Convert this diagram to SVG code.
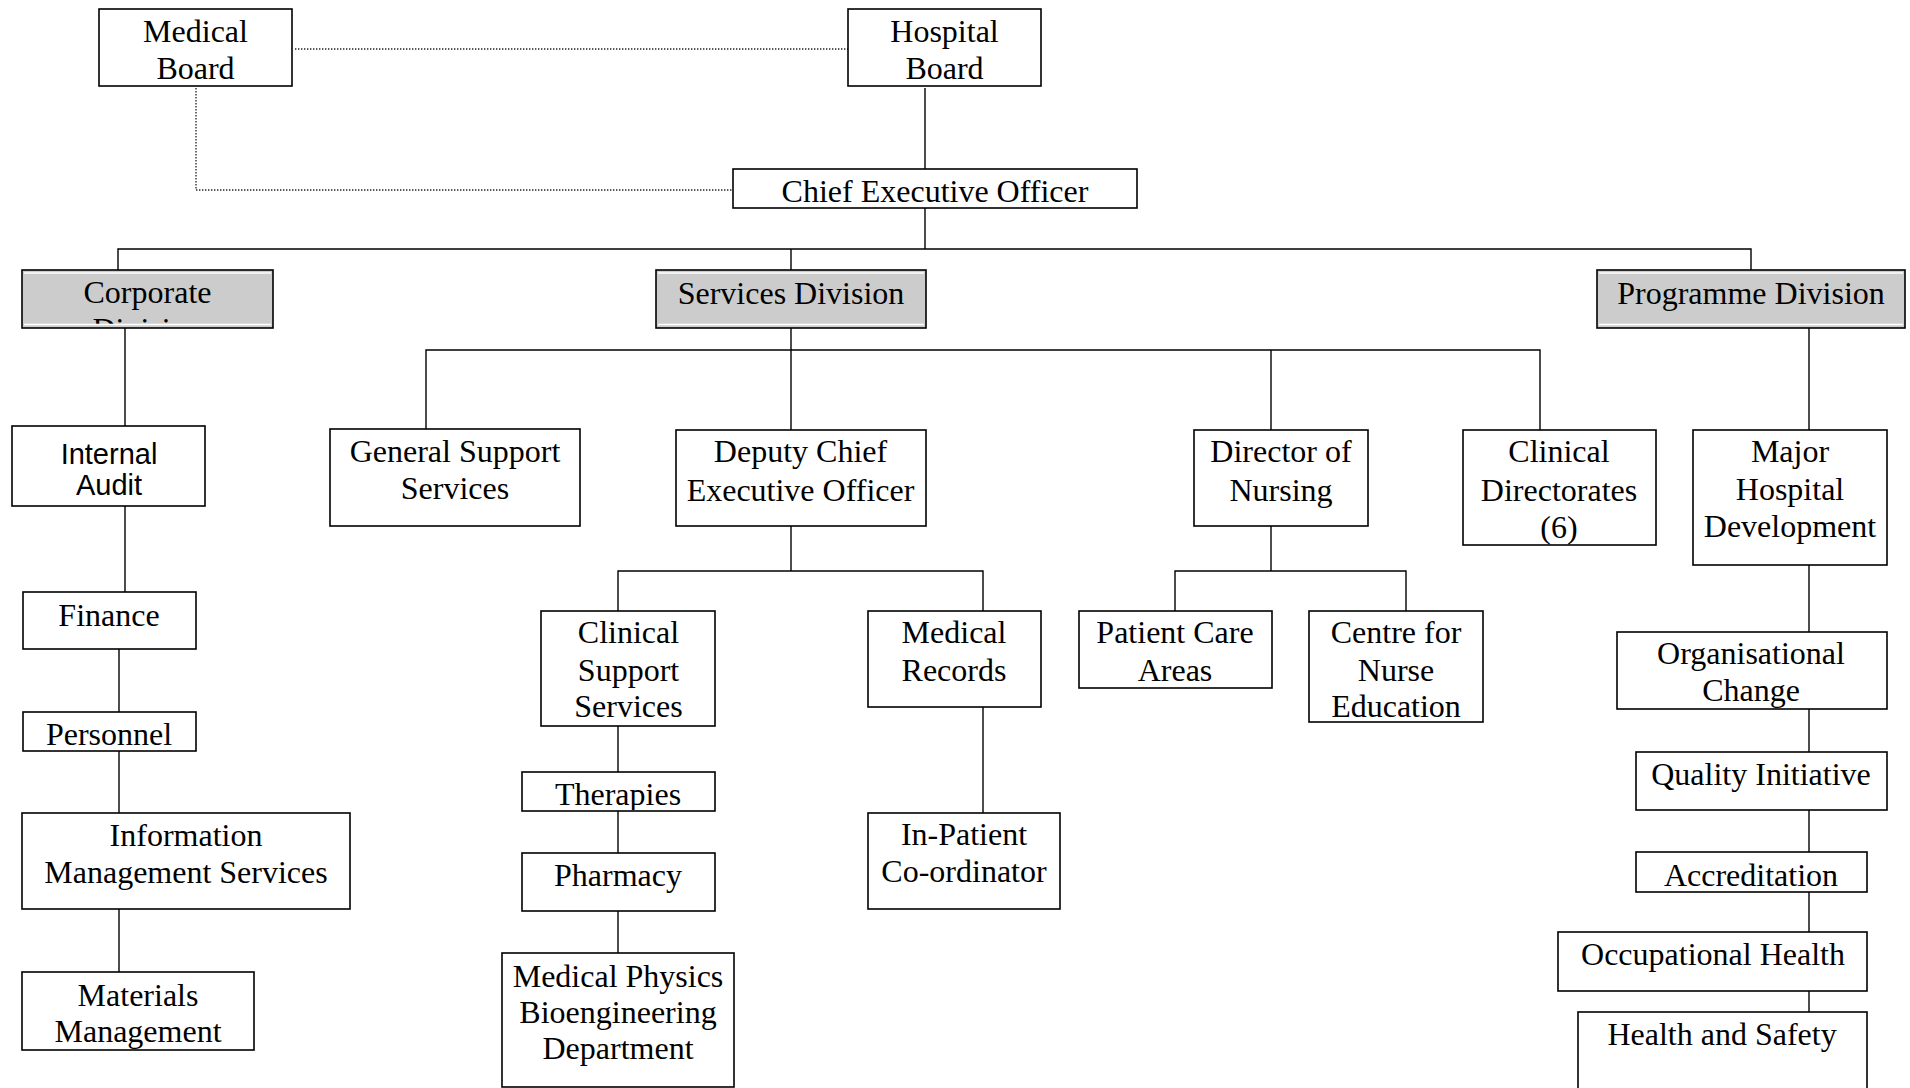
<svg xmlns="http://www.w3.org/2000/svg" width="1910" height="1088" viewBox="0 0 1910 1088">
<style>
.box{fill:#fff;stroke:#000;stroke-width:1.6}
.div{fill:#cccccc;stroke:#000;stroke-width:1.6}
.hl{stroke:#fff;stroke-width:1.5}
.ln{fill:none;stroke:#000;stroke-width:1.4}
.dot{fill:none;stroke:#222;stroke-width:1.3;stroke-dasharray:1.4 1.6}
text{font-family:"Liberation Serif","Times New Roman",serif;font-size:32px;fill:#000;text-anchor:middle}
.sans{font-family:"Liberation Sans",Arial,sans-serif;font-size:29px}
</style>
<defs>
<clipPath id="c-corp"><rect x="23" y="271" width="249" height="53"/></clipPath>
<clipPath id="c-ther"><rect x="523" y="773" width="191" height="37"/></clipPath>
<clipPath id="c-mat"><rect x="23" y="973" width="230" height="76"/></clipPath>
<clipPath id="c-org"><rect x="1618" y="633" width="268" height="75"/></clipPath>
<clipPath id="c-css"><rect x="542" y="612" width="172" height="113"/></clipPath>
<clipPath id="c-cne"><rect x="1310" y="612" width="172" height="109"/></clipPath>
</defs>
<g id="connectors">
<path class="dot" d="M295,49 H848"/>
<path class="dot" d="M196,88 V190 H733"/>
<path class="ln" d="M925,88 V169"/>
<path class="ln" d="M925,208 V249"/>
<path class="ln" d="M118,270 V249 H1751 V270"/>
<path class="ln" d="M791,249 V270"/>
<path class="ln" d="M125,328 V426"/>
<path class="ln" d="M125,506 V592"/>
<path class="ln" d="M119,649 V712"/>
<path class="ln" d="M119,751 V813"/>
<path class="ln" d="M119,909 V972"/>
<path class="ln" d="M791,328 V430"/>
<path class="ln" d="M426,429 V350 H1540 V430"/>
<path class="ln" d="M1271,350 V430"/>
<path class="ln" d="M791,526 V571"/>
<path class="ln" d="M618,611 V571 H983 V611"/>
<path class="ln" d="M983,707 V813"/>
<path class="ln" d="M618,726 V772"/>
<path class="ln" d="M618,811 V853"/>
<path class="ln" d="M618,911 V953"/>
<path class="ln" d="M1271,526 V571"/>
<path class="ln" d="M1175,611 V571 H1406 V611"/>
<path class="ln" d="M1809,328 V430"/>
<path class="ln" d="M1809,565 V632"/>
<path class="ln" d="M1809,709 V752"/>
<path class="ln" d="M1809,810 V852"/>
<path class="ln" d="M1809,892 V932"/>
<path class="ln" d="M1809,991 V1012"/>
</g>
<g id="medical-board"><rect class="box" x="99" y="9" width="193" height="77"/><text x="195.5" y="42">Medical</text><text x="195.5" y="79">Board</text></g>
<g id="hospital-board"><rect class="box" x="848" y="9" width="193" height="77"/><text x="944.5" y="42">Hospital</text><text x="944.5" y="79">Board</text></g>
<g id="ceo"><rect class="box" x="733" y="169" width="404" height="39"/><text x="935" y="201.5">Chief Executive Officer</text></g>
<g id="corporate-division"><rect class="div" x="22" y="270" width="251" height="58"/><line class="hl" x1="24" y1="273" x2="271" y2="273"/><g clip-path="url(#c-corp)"><text x="147.5" y="303">Corporate</text><text x="147.5" y="340">Division</text></g><line class="hl" x1="24" y1="324.5" x2="271" y2="324.5"/></g>
<g id="services-division"><rect class="div" x="656" y="270" width="270" height="58"/><line class="hl" x1="658" y1="273" x2="924" y2="273"/><line class="hl" x1="658" y1="324.5" x2="924" y2="324.5"/><text x="791" y="304">Services Division</text></g>
<g id="programme-division"><rect class="div" x="1597" y="270" width="308" height="58"/><line class="hl" x1="1599" y1="273" x2="1903" y2="273"/><line class="hl" x1="1599" y1="324.5" x2="1903" y2="324.5"/><text x="1751" y="304">Programme Division</text></g>
<g id="internal-audit"><rect class="box" x="12" y="426" width="193" height="80"/><text class="sans" x="109" y="464">Internal</text><text class="sans" x="109" y="495">Audit</text></g>
<g id="finance"><rect class="box" x="23" y="592" width="173" height="57"/><text x="109" y="625.5">Finance</text></g>
<g id="personnel"><rect class="box" x="23" y="712" width="173" height="39"/><text x="109" y="745">Personnel</text></g>
<g id="ims"><rect class="box" x="22" y="813" width="328" height="96"/><text x="186" y="846">Information</text><text x="186" y="882.5">Management Services</text></g>
<g id="materials"><rect class="box" x="22" y="972" width="232" height="78"/><g clip-path="url(#c-mat)"><text x="138" y="1006">Materials</text><text x="138" y="1042">Management</text></g></g>
<g id="general-support"><rect class="box" x="330" y="429" width="250" height="97"/><text x="455" y="462">General Support</text><text x="455" y="499">Services</text></g>
<g id="deputy-ceo"><rect class="box" x="676" y="430" width="250" height="96"/><text x="800.5" y="462">Deputy Chief</text><text x="800.5" y="500.5">Executive Officer</text></g>
<g id="clinical-support"><rect class="box" x="541" y="611" width="174" height="115"/><g clip-path="url(#c-css)"><text x="628.5" y="643">Clinical</text><text x="628.5" y="680.5">Support</text><text x="628.5" y="717">Services</text></g></g>
<g id="medical-records"><rect class="box" x="868" y="611" width="173" height="96"/><text x="954" y="643">Medical</text><text x="954" y="680.5">Records</text></g>
<g id="inpatient"><rect class="box" x="868" y="813" width="192" height="96"/><text x="964" y="845">In-Patient</text><text x="964" y="882">Co-ordinator</text></g>
<g id="therapies"><rect class="box" x="522" y="772" width="193" height="39"/><g clip-path="url(#c-ther)"><text x="618" y="805">Therapies</text></g></g>
<g id="pharmacy"><rect class="box" x="522" y="853" width="193" height="58"/><text x="618" y="885.5">Pharmacy</text></g>
<g id="medical-physics"><rect class="box" x="502" y="953" width="232" height="134"/><text x="618" y="986.5">Medical Physics</text><text x="618" y="1022.5">Bioengineering</text><text x="618" y="1059">Department</text></g>
<g id="director-nursing"><rect class="box" x="1194" y="430" width="174" height="96"/><text x="1281" y="462">Director of</text><text x="1281" y="500.5">Nursing</text></g>
<g id="patient-care"><rect class="box" x="1079" y="611" width="193" height="77"/><text x="1175" y="643">Patient Care</text><text x="1175" y="680.5">Areas</text></g>
<g id="centre-nurse"><rect class="box" x="1309" y="611" width="174" height="111"/><g clip-path="url(#c-cne)"><text x="1396" y="643">Centre for</text><text x="1396" y="680.5">Nurse</text><text x="1396" y="717">Education</text></g></g>
<g id="clinical-directorates"><rect class="box" x="1463" y="430" width="193" height="115"/><text x="1559" y="462">Clinical</text><text x="1559" y="500.5">Directorates</text><text x="1559" y="538">(6)</text></g>
<g id="major-hospital"><rect class="box" x="1693" y="430" width="194" height="135"/><text x="1790" y="462">Major</text><text x="1790" y="500">Hospital</text><text x="1790" y="537">Development</text></g>
<g id="organisational-change"><rect class="box" x="1617" y="632" width="270" height="77"/><g clip-path="url(#c-org)"><text x="1751" y="664">Organisational</text><text x="1751" y="700.5">Change</text></g></g>
<g id="quality-initiative"><rect class="box" x="1636" y="752" width="251" height="58"/><text x="1761" y="785">Quality Initiative</text></g>
<g id="accreditation"><rect class="box" x="1636" y="852" width="231" height="40"/><text x="1751" y="885.5">Accreditation</text></g>
<g id="occupational-health"><rect class="box" x="1558" y="932" width="309" height="59"/><text x="1713" y="965">Occupational Health</text></g>
<g id="health-safety"><rect class="box" x="1578" y="1012" width="289" height="100"/><text x="1722" y="1045">Health and Safety</text></g>
</svg>
